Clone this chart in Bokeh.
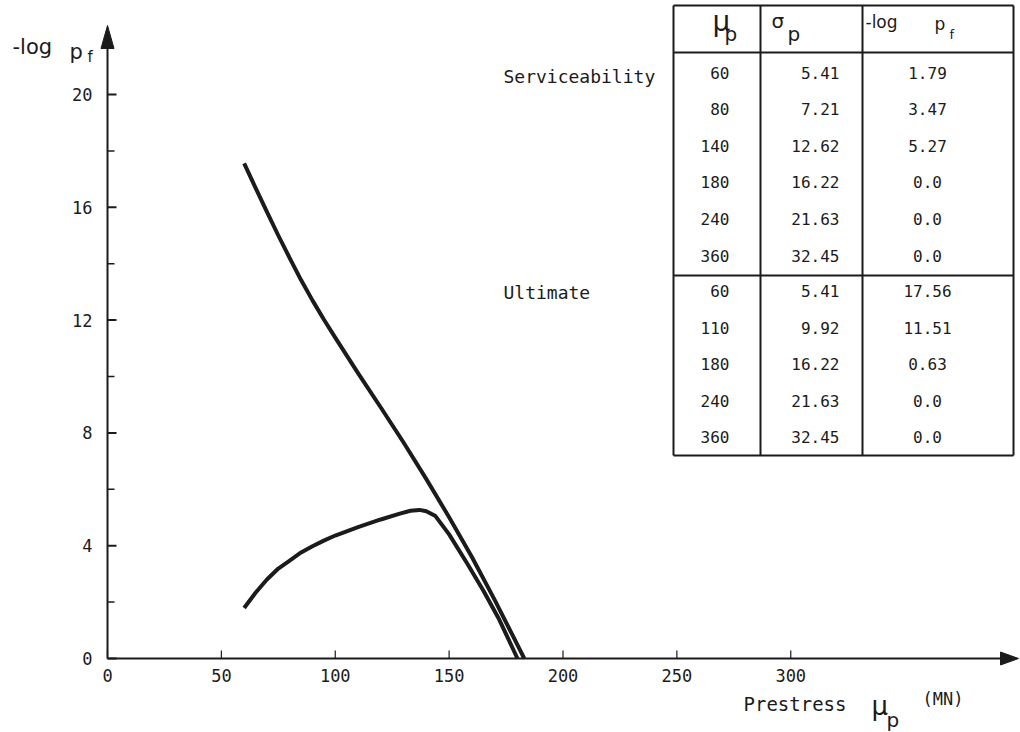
from bokeh.plotting import figure
from bokeh.models import Label, Range1d
from bokeh.core.properties import value
from bokeh.embed import file_html
from bokeh.resources import INLINE

# ---- curves: -log pf against mean prestress (MN) ----
mu_ultimate = [60, 65, 70, 75, 80, 85, 90, 95, 100, 110, 120, 130, 140, 150, 160, 170, 178, 183]
logpf_ultimate = [17.56, 16.69, 15.84, 15.00, 14.20, 13.42, 12.70, 12.02, 11.38, 10.12,
                  8.90, 7.66, 6.36, 5.01, 3.60, 2.08, 0.80, 0.0]

mu_service = [60, 65, 70, 75, 80, 85, 90, 95, 100, 110, 120, 128, 133, 137, 140, 144,
              150, 158, 165, 172, 180]
logpf_service = [1.79, 2.33, 2.80, 3.19, 3.47, 3.76, 3.98, 4.18, 4.36, 4.66, 4.93, 5.13,
                 5.24, 5.27, 5.22, 5.05, 4.40, 3.36, 2.41, 1.38, 0.0]

# ---- axis ticks ----
x_ticks = [0, 50, 100, 150, 200, 250, 300]
y_ticks = [0, 4, 8, 12, 16, 20]
y_minor_ticks = [2, 6, 10, 14, 18]

# ---- table contents ----
tab_mu_service = ["60", "80", "140", "180", "240", "360"]
tab_sigma_service = ["5.41", "7.21", "12.62", "16.22", "21.63", "32.45"]
tab_logpf_service = ["1.79", "3.47", "5.27", "0.0", "0.0", "0.0"]

tab_mu_ultimate = ["60", "110", "180", "240", "360"]
tab_sigma_ultimate = ["5.41", "9.92", "16.22", "21.63", "32.45"]
tab_logpf_ultimate = ["17.56", "11.51", "0.63", "0.0", "0.0"]

# ---- page geometry (pixels) ----
W, H = 1020, 732
ORIGIN_X, ORIGIN_Y = 107, 658      # where the axes cross
PX_PER_MN = 2.2775
PX_PER_UNIT = 28.2
INK = "#1b1b1b"
MONO = "DejaVu Sans Mono"
SANS = "DejaVu Sans"


def dx(px):
    return (px - ORIGIN_X) / PX_PER_MN


def dy(py):
    return (ORIGIN_Y - py) / PX_PER_UNIT


# the plotting frame fills the whole canvas; the axes are drawn inside it
p = figure(
    width=W, height=H,
    x_range=Range1d(dx(0), dx(W)), y_range=Range1d(dy(H), dy(0)),
    x_axis_type=None, y_axis_type=None,
    output_backend="svg", toolbar_location=None,
    min_border=0,
)
p.outline_line_color = None
p.background_fill_color = "white"
p.border_fill_color = "white"

# ---- axis lines with arrow heads ----
p.segment(x0=[0, 0], y0=[0, 0], x1=[dx(1005), 0], y1=[0, dy(40)],
          line_color=INK, line_width=2)
p.patch([dx(ORIGIN_X - 6.5), dx(ORIGIN_X), dx(ORIGIN_X + 6.5)],
        [dy(48), dy(25), dy(48)], fill_color=INK, line_color=INK)
p.patch([dx(1000), dx(1018), dx(1000)],
        [dy(ORIGIN_Y - 6.5), 0, dy(ORIGIN_Y + 6.5)], fill_color=INK, line_color=INK)

# ---- inward ticks ----
p.segment(x0=[0] * len(y_ticks), x1=[dx(ORIGIN_X + 9)] * len(y_ticks),
          y0=y_ticks, y1=y_ticks, line_color=INK, line_width=2)
p.segment(x0=[0] * len(y_minor_ticks), x1=[dx(ORIGIN_X + 7)] * len(y_minor_ticks),
          y0=y_minor_ticks, y1=y_minor_ticks, line_color=INK, line_width=1.5)
p.segment(x0=x_ticks, x1=x_ticks, y0=[0] * len(x_ticks),
          y1=[dy(ORIGIN_Y - 8)] * len(x_ticks), line_color=INK, line_width=1.2)

# ---- tick labels ----
tick_font = dict(text_font=value(MONO), text_font_size=value("17px"), text_color=INK)
p.text(x=[dx(ORIGIN_X - 15)] * len(y_ticks), y=y_ticks, text=[str(t) for t in y_ticks],
       text_align="right", text_baseline="middle", **tick_font)
p.text(x=x_ticks, y=[dy(ORIGIN_Y + 10)] * len(x_ticks), text=[str(t) for t in x_ticks],
       text_align="center", text_baseline="top", **tick_font)

# ---- the two reliability curves ----
p.line(mu_ultimate, logpf_ultimate, line_width=4, line_color=INK, line_join="round")
p.line(mu_service, logpf_service, line_width=4, line_color=INK, line_join="round")

# ---- table ----
T_LEFT, T_RIGHT, T_TOP, T_HEAD, T_MID, T_BOTTOM = 673, 1013, 5, 52, 275, 455
T_COL1, T_COL2 = 760, 862
h_lines = [T_TOP, T_HEAD, T_MID, T_BOTTOM]
p.segment(x0=[dx(T_LEFT)] * 4, x1=[dx(T_RIGHT)] * 4,
          y0=[dy(v) for v in h_lines], y1=[dy(v) for v in h_lines],
          line_color=INK, line_width=2)
v_lines = [T_LEFT, T_COL1, T_COL2, T_RIGHT]
p.segment(x0=[dx(v) for v in v_lines], x1=[dx(v) for v in v_lines],
          y0=[dy(T_TOP)] * 4, y1=[dy(T_BOTTOM)] * 4,
          line_color=INK, line_width=2)

ROW_STEP = 36.6


def table_block(first_row_py, mus, sigmas, logpfs):
    ys = [dy(first_row_py + i * ROW_STEP) for i in range(len(mus))]
    common = dict(text_font=value(MONO), text_font_size=value("16px"),
                  text_color=INK, text_baseline="middle")
    p.text(x=[dx(729)] * len(mus), y=ys, text=mus, text_align="right", **common)
    p.text(x=[dx(839)] * len(sigmas), y=ys, text=sigmas, text_align="right", **common)
    p.text(x=[dx(927)] * len(logpfs), y=ys, text=logpfs, text_align="center", **common)


table_block(72, tab_mu_service, tab_sigma_service, tab_logpf_service)
table_block(290.5, tab_mu_ultimate, tab_sigma_ultimate, tab_logpf_ultimate)


def put(text, px, py, font, size, baseline="alphabetic", align="left"):
    p.add_layout(Label(x=dx(px), y=dy(py), text=text, text_font=font,
                       text_font_size=size, text_color=INK,
                       text_align=align, text_baseline=baseline))


# table headers
put("\u03bc", 712, 21, SANS, "28px")
put("p", 724, 33, SANS, "20px")
put("\u03c3", 771, 20, SANS, "20px")
put("p", 787, 33, SANS, "20px")
put("-log", 865, 21, SANS, "17px")
put("p", 934, 23, SANS, "17px")
put("f", 949, 34, SANS, "13px")

# limit-state names
put("Serviceability", 503, 76, MONO, "18px", baseline="middle")
put("Ultimate", 503, 292, MONO, "18px", baseline="middle")

# y-axis title
put("-log", 12, 46, SANS, "21px")
put("p", 69, 51, SANS, "21px")
put("f", 87, 56, SANS, "15px")

# x-axis title
put("Prestress", 743, 703, MONO, "19px")
put("\u03bc", 871, 705, SANS, "26px")
put("p", 886, 719, SANS, "20px")
put("(MN)", 922, 698, MONO, "17px")

open("out.html", "w").write(file_html(p, INLINE))
